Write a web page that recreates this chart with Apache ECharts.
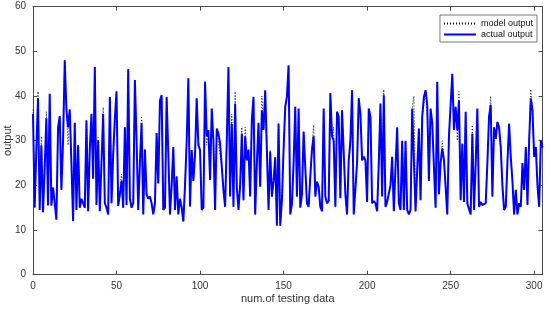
<!DOCTYPE html>
<html>
<head>
<meta charset="utf-8">
<script src="https://cdn.jsdelivr.net/npm/echarts@6/dist/echarts.min.js"></script>
<style>html,body{margin:0;padding:0;background:#fff}#c{width:550px;height:310px}</style>
</head>
<body>
<div id="c"></div>
<script>
const xTicks = [0, 50, 100, 150, 200, 250, 300];
const yTicks = [0, 10, 20, 30, 40, 50, 60];
const seriesNames = ['model output', 'actual output'];
const actualOutput = [
36,15,28,39.5,14.5,29,14,24,35,15.5,
40.5,15.5,19.5,16,12.3,33,35.5,19,30,48,
37,33,37,25,12,34,14.5,29,15,17,
16,15,34.5,14.2,28,36,21.5,46.5,15.6,30,
14.2,25,36,16,15,13.5,39.8,16,27,35,
41,15.4,18,21,15,33,15.6,46,17,15,
16,43.6,30,14.5,25,34,13.5,28,18,17,
17.5,16,13.5,16,31.7,20.4,39,40.2,14.5,15,
39.8,27,13.5,20,28.6,14.5,22,13.5,17,15,
11.9,20,30,44,15.3,27.9,21,27,39.5,29,
27.9,14.5,15,43.2,31,32.4,21.2,37.2,30,14.5,
32.7,31.6,29.4,24.2,19,15.2,30,46.5,17.5,33.8,
15.2,38.3,19.7,14.5,20,31.6,16.7,31,25.6,28,
17.5,34.6,39.8,13.5,25,34,19.7,36.8,32.4,41.3,
28,14.5,27.5,17.5,21,26.3,11,33.8,11,16.7,
28,37.6,39.8,46.9,13.5,15.8,25,37.6,17.5,37.2,
15,18,32,31.6,16,15.2,22,28,31,17.5,
20.8,19.7,15.2,14.2,37.2,17.5,16,16.5,40.6,31,
30,15.2,36.5,35.4,17.1,36.8,37.2,18,13.5,25.6,
30,41.3,13.5,13.5,25,39.5,36,25.6,26.4,25.6,
16.3,37.2,35.4,16,16.5,16,14.2,25,38.3,17.5,
40.2,15.2,16.3,16,20,26.4,14.2,24,33,16,
14.5,30,14.5,30,14.5,13.5,14.5,37.2,37.6,14.2,
14.5,32.7,16.7,35.4,39.8,41.3,38,21,37.2,34,
24.2,15,43.2,18,25,28.3,25.7,19.7,13.5,31,
31,45,32.4,37.6,32.4,39,16.7,29.3,16.3,36.5,
16,16,13.5,31.6,14.5,25,37.2,15.2,16.3,15.6,
16,16,25,35.4,38,17.5,33,30.4,34.2,33,
28.6,20,14.5,15.2,25,33.8,26.4,21,13.5,19,
13.5,16,15.2,25,19,28.6,15.6,30,39.5,36.8,
26.4,28.6,20,15.2,30,28.5
];
const modelOutput = [
37,15,28,41,14.5,31,14,24,36.5,15.5,
40.5,15.5,19.5,16,12.3,33,35.5,19,30,48,
37,29,37,25,12,34,14.5,29,15,17,
16,15,34.5,14.2,28,36,21.5,46.5,15.6,30.7,
14.2,25,37.5,16,15,13.5,39.8,16,27,33,
41,15.4,18,22.5,15,33,15.6,46,17,15,
16,43.6,30,14.5,25,35.5,13.5,28,18,17,
17.5,16,13.5,16,31.7,20.4,39,40.2,14.5,15,
39.8,27,13.5,20,28.6,14.5,22,13.5,17,15,
11.9,20,30,44,15.3,27.9,21,27,39.5,30,
27.9,14.5,15,43.2,29,32.4,21.2,37.2,30,14.5,
32.7,29.5,29.4,24.2,19,15.2,30,46.5,17.5,36,
15.2,41,19.7,14.5,20,33,16.7,33,25.6,28,
17.5,34.6,39.8,13.5,25,34,19.7,40,32.4,41.3,
28,14.5,28,17.5,21,26.3,11,33.8,11,16.7,
28,37.6,39.8,46.9,13.5,15.8,25,37.6,17.5,37.2,
15,18,32,31.6,16,15.2,22,28,33.5,17.5,
20.8,19.7,15.2,14.2,37.2,17.5,16,16.5,40.6,31,
33,15.2,36.5,35.4,17.1,36.8,37.2,18,13.5,25.6,
29,41.3,13.5,13.5,25,39.5,36,27,27,25.6,
16.3,37,35.4,16,16.5,16,14.2,25,38.3,17.5,
41.5,15.2,16.3,16,20,26.4,14.2,24,33,16,
14.5,30,14.5,30,14.5,13.5,14.5,37.2,40,14.2,
14.5,32.7,16.7,35.4,38,41.3,36,21,37.2,34,
24.2,15,43.2,18,25,30,25.7,19.7,13.5,31,
31,45,32.4,37.6,30,41,16.7,29.3,16.3,36.5,
16,16,13.5,33.5,14.5,25,37.2,15.2,16.3,15.6,
16,16,25,35.4,40,17.5,33,30.4,34.2,33,
28.6,20,14.5,15.2,25,33.8,26.4,21,13.5,19,
13.5,16,15.2,25,19,28.6,15.6,30,41.5,36.8,
26.4,28.6,20,15.2,30,28.5
];
const xMax = 305;

const axisColor = '#4a4a4a';
const textColor = '#333';
const font = 'Liberation Sans, Arial, sans-serif';
const chart = echarts.init(document.getElementById('c'), null, {renderer: 'canvas'});
const xCommon = {
  type: 'value', min: xTicks[0], max: xMax, interval: xTicks[1] - xTicks[0],
  splitLine: {show: false},
  axisLine: {show: true, onZero: false, lineStyle: {color: axisColor, width: 1}},
  axisTick: {show: true, inside: true, length: 4, lineStyle: {color: axisColor}},
};
const yCommon = {
  type: 'value', min: yTicks[0], max: yTicks[yTicks.length - 1], interval: yTicks[1] - yTicks[0],
  splitLine: {show: false},
  axisLine: {show: true, onZero: false, lineStyle: {color: axisColor, width: 1}},
  axisTick: {show: true, inside: true, length: 4, lineStyle: {color: axisColor}},
};
chart.setOption({
  animation: false,
  grid: {left: 33, right: 7.5, top: 6.7, bottom: 35.3, containLabel: false, outerBoundsMode: 'none'},
  legend: {
    orient: 'vertical', right: 13, top: 15,
    data: seriesNames,
    backgroundColor: '#fff', borderColor: '#777', borderWidth: 1,
    padding: [4, 4, 3, 3], itemGap: 2, itemWidth: 32, itemHeight: 8,
    itemStyle: {opacity: 0},
    textStyle: {fontSize: 9, color: '#111', fontFamily: font}
  },
  xAxis: [
    Object.assign({}, xCommon, {
      position: 'bottom',
      name: 'num.of testing data', nameLocation: 'middle', nameGap: 19, nameMoveOverlap: false,
      nameTextStyle: {fontSize: 11, color: textColor, fontFamily: font},
      axisLabel: {show: true, fontSize: 10, color: textColor, fontFamily: font, margin: 7,
        formatter: v => (xTicks.indexOf(v) >= 0 ? String(v) : '')}
    }),
    Object.assign({}, xCommon, {position: 'top', axisLabel: {show: false}})
  ],
  yAxis: [
    Object.assign({}, yCommon, {
      position: 'left',
      name: 'output', nameLocation: 'middle', nameGap: 20, nameRotate: 90, nameMoveOverlap: false,
      nameTextStyle: {fontSize: 11, color: textColor, fontFamily: font},
      axisLabel: {show: true, fontSize: 10, color: textColor, fontFamily: font, margin: 7}
    }),
    Object.assign({}, yCommon, {position: 'right', axisLabel: {show: false}})
  ],
  series: [
    {
      name: seriesNames[0], type: 'line', symbol: 'none', showSymbol: false,
      xAxisIndex: 0, yAxisIndex: 0,
      data: modelOutput.map((v, i) => [i, v]),
      lineStyle: {color: '#000', width: 1, type: [1, 2]},
      itemStyle: {color: '#000'}, z: 2
    },
    {
      name: seriesNames[1], type: 'line', symbol: 'none', showSymbol: false,
      xAxisIndex: 0, yAxisIndex: 0,
      data: actualOutput.map((v, i) => [i, v]),
      lineStyle: {color: '#0000ff', width: 2},
      itemStyle: {color: '#0000ff'}, z: 3
    }
  ]
});
</script>
</body>
</html>
